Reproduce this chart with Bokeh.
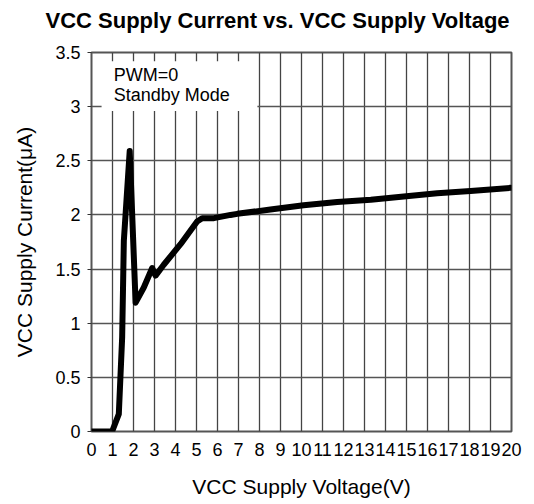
from bokeh.plotting import figure
from bokeh.models import BoxAnnotation, Label, FixedTicker, Range1d, Title
from bokeh.embed import file_html
from bokeh.resources import INLINE

# Data
voltage = [0.0, 0.98, 1.30, 1.46, 1.54, 1.82, 2.10, 2.49, 2.89, 3.05, 3.44, 4.24,
           5.03, 5.27, 5.83, 6.62, 6.94, 8.52, 10.1, 11.7, 13.3, 14.87, 16.46, 18.05, 19.95]
current = [0.0, 0.0, 0.16, 0.87, 1.76, 2.59, 1.19, 1.33, 1.51, 1.44, 1.54, 1.73,
           1.94, 1.97, 1.97, 2.00, 2.01, 2.05, 2.09, 2.12, 2.14, 2.17, 2.20, 2.22, 2.25]
x_ticks = list(range(0, 21))
y_ticks = [0, 0.5, 1, 1.5, 2, 2.5, 3, 3.5]
title_text = "VCC Supply Current vs. VCC Supply Voltage"

FONT = "Liberation Sans"

p = figure(width=530, height=500, output_backend="svg", toolbar_location=None,
           x_range=Range1d(0, 20), y_range=Range1d(0, 3.5),
           min_border_left=91, min_border_right=19, min_border_top=51, min_border_bottom=69)

# spacer panel between the frame and the title
p.add_layout(Title(text=" ", text_font_size="10px", standoff=2), "above")

p.title.text = title_text
p.title.text_font = FONT
p.title.text_font_size = "22px"
p.title.text_font_style = "bold"
p.title.text_color = "black"
p.title.align = "left"
p.title.offset = -46
p.title.vertical_align = "bottom"
p.title.standoff = 10

p.outline_line_color = "#555555"
p.outline_line_width = 2

for ax in (p.xaxis[0], p.yaxis[0]):
    ax.axis_line_color = None
    ax.major_label_text_font = FONT
    ax.major_label_text_font_size = "18px"
    ax.major_label_text_color = "black"
    ax.axis_label_text_font = FONT
    ax.axis_label_text_font_size = "21px"
    ax.axis_label_text_font_style = "normal"
    ax.axis_label_text_color = "black"
    ax.minor_tick_line_color = None

p.xaxis.ticker = FixedTicker(ticks=x_ticks)
p.yaxis.ticker = FixedTicker(ticks=y_ticks)
p.xaxis.major_tick_out = 0
p.xaxis.major_tick_in = 0
p.xaxis.major_label_standoff = 11
p.xaxis.axis_label = "VCC Supply Voltage(V)"
p.xaxis.axis_label_standoff = 16

p.yaxis.major_tick_out = 4
p.yaxis.major_tick_in = 0
p.yaxis.major_tick_line_color = "#333333"
p.yaxis.major_label_standoff = 7
p.yaxis.axis_label = "VCC Supply Current(\u03bcA)"
p.yaxis.axis_label_standoff = 16

p.xgrid.grid_line_color = "#444444"
p.xgrid.grid_line_width = 1.3
p.ygrid.grid_line_color = "#555555"
p.ygrid.grid_line_width = 1.5

p.add_layout(BoxAnnotation(left=0.48, right=7.9, bottom=2.96, top=3.42,
                           fill_color="white", fill_alpha=1.0, line_color=None))
p.add_layout(Label(x=1.06, y=3.295, text="PWM=0", text_font=FONT,
                   text_font_size="18px", text_baseline="middle", text_color="black"))
p.add_layout(Label(x=1.06, y=3.105, text="Standby Mode", text_font=FONT,
                   text_font_size="18px", text_baseline="middle", text_color="black"))

p.line(voltage, current, line_color="black", line_width=6, line_join="round", line_cap="round")

open("out.html", "w").write(file_html(p, INLINE))
